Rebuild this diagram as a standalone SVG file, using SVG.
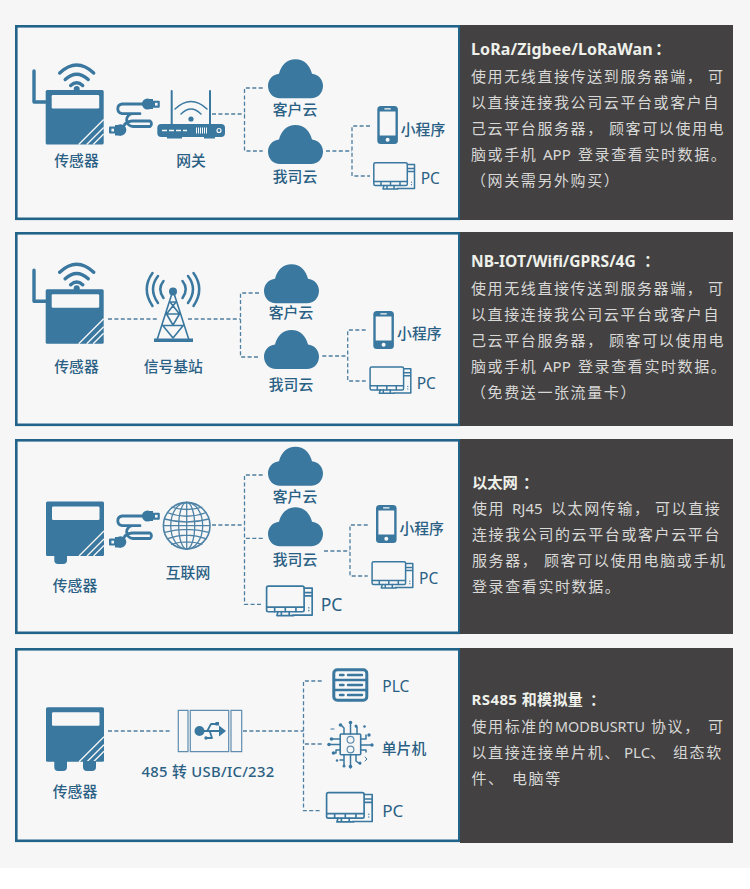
<svg xmlns="http://www.w3.org/2000/svg" width="750" height="889" viewBox="0 0 750 889">
<style>
text{font-family:"Noto Sans","Noto Sans CJK SC",sans-serif}
.panel{fill:#f7f7f8;stroke:#22638a;stroke-width:2.6}
.dark{fill:#434142}
.lb{fill:#2a6083;font-size:14.8px;font-weight:500;text-anchor:middle}
.pc{fill:#2a6083;font-size:15.500px}
.h{fill:#eef0ea;font-size:16px;font-weight:700}
.t{fill:#d8d8d6;font-size:15px;letter-spacing:1.6px}
.dash{fill:none;stroke:#4f7f9f;stroke-width:1.3;stroke-dasharray:4 2.4}
.f{fill:#3a789f}
.s{fill:none;stroke:#3a789f;stroke-linecap:round;stroke-linejoin:round}
.w{fill:none;stroke:#f7f7f8}
</style>
<defs>
<g id="box"><rect width="58" height="54.5" rx="1.5" class="f"/><rect x="6" y="5" width="47.5" height="13.5" rx="1.2" fill="#f7f7f8"/><path class="w" stroke-width="1.3" d="M33 54.5 58 29.5M41 54.5 58 37.5M47.5 54.5 58 44"/></g>
<g id="wifi"><path class="s" stroke-width="3.4" stroke-linecap="butt" d="M14 -17Q31 -33 48 -17M19.5 -10.5Q31 -21 42.5 -10.5M25 -4.5Q31 -10 37 -4.5"/><circle cx="31" cy="-1" r="3" class="f"/><path class="s" stroke-width="3.4" stroke-linecap="butt" d="M-11.7 -19V12H0"/></g>
<path id="cloud" class="f" d="M12 39C5 39 0 33.5 0 26.5 0 20 5 15 11 14.5 13 6 19 0 27.5 0 36 0 42 6 44 14.5 50 15 55 20 55 26.5 55 33.5 50 39 43 39Z"/>
<g id="phone"><rect width="20.6" height="38" rx="3.5" class="f"/><rect x="2.4" y="5.5" width="15.8" height="24" fill="#f7f7f8"/><rect x="7" y="2.2" width="6.6" height="1.3" rx=".6" fill="#f7f7f8"/><circle cx="10.3" cy="33.7" r="2" fill="#f7f7f8"/></g>
<g id="pc" class="s" stroke-width="1.5"><rect x=".8" y=".8" width="33.5" height="22.8" rx="1.5"/><path d="M1 19.5H34M8 19.5V23.5M17.5 19.5V23.5M27 19.5V23.5M11 23.5 10 27H25M14 23.5V27M21 23.5V27M34.5 2.5H41.5V26.6H24M35 6.5H41M35 9.5H41"/><path stroke-width="1.2" d="M38.5 20V20.2M38.5 22.5V22.7"/></g>
<g id="cable"><path class="s" stroke-width="2.8" d="M36 6H13A4.9 4.9 0 0 0 13 15.7H31M31 15.7H24A6.2 6.2 0 0 0 24 28.5H41A3.3 3.3 0 0 0 41 23H23Q16 24 15 28"/><circle cx="38.5" cy="6" r="5.500" class="f"/><rect x="38" y="1" width="6" height="10" class="f"/><rect x="43" y="2.800" width="7.800" height="7" rx="1" class="f"/><rect x="46" y="4.800" width="2.600" height="2.800" fill="#f7f7f8"/><circle cx="11.500" cy="32" r="5.800" class="f"/><rect x="6" y="27" width="6" height="10.500" class="f"/><rect x="0" y="28.500" width="8" height="7" rx="1" class="f"/><rect x="2.400" y="30.700" width="2.600" height="2.800" fill="#f7f7f8"/></g>
</defs>
<rect width="750" height="868" fill="#f6f6f6"/>
<rect width="750" height="21" y="868" fill="#fff"/>

<g id="panel-1"><rect class="panel" x="16.3" y="26.3" width="443" height="192.5"/><rect class="dark" x="460" y="25" width="273" height="195"/></g>
<g id="panel-2"><rect class="panel" x="16.3" y="233.3" width="443" height="191.5"/><rect class="dark" x="460" y="232" width="273" height="194"/></g>
<g id="panel-3"><rect class="panel" x="16.3" y="440.3" width="443" height="192.5"/><rect class="dark" x="460" y="439" width="273" height="195"/></g>
<g id="panel-4"><rect class="panel" x="16.3" y="649.3" width="443" height="191.5"/><rect class="dark" x="460" y="648" width="273" height="195"/></g>

<g id="connectors">
<path class="dash" d="M212 114H244.5M262.7 88H244.5V151H262.7M326 151H352M370 126H352V176H370"/>
<path class="dash" d="M108 319H159M188 319H240.5M259 293H240.5V357H259M322.3 356H347.7M365.7 330H347.7V381H365.7"/>
<path class="dash" d="M212 525H244.5M262.7 475H244.5V604.3H263M262.7 538.3H244.5M324 551H350M367.7 525H350V576H367.7"/>
<path class="dash" d="M108 731H172M243 731H303.5M321.7 681H303.5V810.7H321.7M321.7 744H303.5"/>
</g>

<g id="p1-sensor"><use href="#box" x="45.7" y="90"/><use href="#wifi" x="45.7" y="90"/><text class="lb" x="76.5" y="165.5">传感器</text></g>
<g id="p1-cable"><use href="#cable" x="109" y="98"/></g>
<g id="p1-gateway"><path class="s" stroke-width="2" stroke-linecap="butt" d="M171.7 91V124M210 91V124"/><path class="s" stroke-width="1.500" d="M175 109Q191 94 207 109M181 114Q191 104 201 114"/><circle cx="191" cy="119" r="2.6" class="f"/><rect x="157.3" y="124" width="67.7" height="13" rx="4" class="f"/><path class="f" d="M167 137H182V138.5H167ZM204 137H215V138.5H204Z"/><path class="w" stroke-width="1.4" d="M162 130.5H187" stroke-dasharray="5 2"/><path class="w" stroke-width="6" d="M196 130.500H207" stroke-dasharray="1 1"/><circle cx="219" cy="130.500" r="2" class="w" stroke-width="1.2"/><text class="lb" x="191" y="165.5">网关</text></g>
<g id="p1-customer-cloud"><use href="#cloud" x="268" y="59.300"/><text class="lb" x="295" y="115">客户云</text></g>
<g id="p1-our-cloud"><use href="#cloud" x="268" y="125"/><text class="lb" x="295" y="182">我司云</text></g>
<g id="p1-phone"><use href="#phone" x="377.300" y="106"/><text class="lb" x="423" y="134.500">小程序</text></g>
<g id="p1-pc"><use href="#pc" x="373" y="162"/><text class="pc" x="420.700" y="184">PC</text></g>
<g id="p1-text"><text class="h" y="55"><tspan x="471" letter-spacing=".1">LoRa/Zigbee/LoRaWan</tspan><tspan x="655">：</tspan></text>
<text class="t" y="81.500"><tspan x="471">使用无线直接传送到服务器端，</tspan><tspan x="708">可</tspan></text>
<text class="t" y="107.500" x="471">以直接连接我公司云平台或客户自</text>
<text class="t" y="133.500"><tspan x="471">己云平台服务器，</tspan><tspan x="609">顾客可以使用电</tspan></text>
<text class="t" y="159.500"><tspan x="471">脑或手机</tspan><tspan x="543" letter-spacing="0">APP</tspan><tspan x="578">登录查看实时数据。</tspan></text>
<text class="t" y="185.500" x="471">（网关需另外购买）</text></g>

<g id="p2-sensor"><use href="#box" x="45.700" y="289.300"/><use href="#wifi" x="45.700" y="289.300"/><text class="lb" x="76.500" y="371.500">传感器</text></g>
<g id="p2-tower"><circle cx="173" cy="291.500" r="4" class="f"/><path class="s" stroke-width="1.6" d="M171.500 295 157 340M174.500 295 189 340M170 302H176M166.500 314H179.500M162.800 325.500H183.200L173 338 162.800 325.500M166.500 314 173 325M179.500 314 173 325M170 302 179.500 314M176 302 166.500 314"/><rect x="154" y="338.500" width="39" height="3.500" class="f"/><path class="s" stroke-width="2.500" stroke-linecap="butt" d="M163.500 281Q157 289 163.500 298M182.500 281Q189 289 182.500 298M158 276Q148 289 158 303M188 276Q198 289 188 303M152.500 273Q141 289 152.500 306M193.500 273Q205 289 193.500 306" /><text class="lb" x="173.300" y="371.500">信号基站</text></g>
<g id="p2-customer-cloud"><use href="#cloud" x="264" y="264.300"/><text class="lb" x="291" y="318">客户云</text></g>
<g id="p2-our-cloud"><use href="#cloud" x="264" y="330"/><text class="lb" x="291" y="389.500">我司云</text></g>
<g id="p2-phone"><use href="#phone" x="373.300" y="311"/><text class="lb" x="419.300" y="339">小程序</text></g>
<g id="p2-pc"><use href="#pc" x="369.300" y="366.300"/><text class="pc" x="416.700" y="389">PC</text></g>
<g id="p2-text"><text class="h" y="267" style="font-size:15.600px"><tspan x="471">NB-IOT/Wifi/GPRS/4G</tspan><tspan x="644">：</tspan></text>
<text class="t" y="293.500"><tspan x="471">使用无线直接传送到服务器端，</tspan><tspan x="708">可</tspan></text>
<text class="t" y="319.500" x="471">以直接连接我公司云平台或客户自</text>
<text class="t" y="345.500"><tspan x="471">己云平台服务器，</tspan><tspan x="609">顾客可以使用电</tspan></text>
<text class="t" y="371.500"><tspan x="471">脑或手机</tspan><tspan x="543" letter-spacing="0">APP</tspan><tspan x="578">登录查看实时数据。</tspan></text>
<text class="t" y="397.500" x="471">（免费送一张流量卡）</text></g>

<g id="p3-sensor"><use href="#box" x="46" y="501.500"/><path class="f" d="M54.300 555H67V560Q67 564 63 564H58Q54.300 564 54.300 560Z"/><text class="lb" x="75" y="590.500">传感器</text></g>
<g id="p3-cable"><use href="#cable" x="109" y="510"/></g>
<g id="p3-internet" fill="none" stroke="#4f83a6" stroke-width="1.300"><circle cx="186.700" cy="525.700" r="23.300" stroke-width="1.600"/><ellipse cx="186.700" cy="525.700" rx="8" ry="23.300"/><ellipse cx="186.700" cy="525.700" rx="16" ry="23.300"/><path d="M186.700 502.400V549M163.400 525.700H210M167 512.500Q186.700 520 206.400 512.500M167 538.900Q186.700 531.400 206.400 538.900M171 507Q186.700 512 202.400 507M171 544.400Q186.700 539.400 202.400 544.400M164.500 519Q186.700 525 208.900 519M164.500 532.400Q186.700 526.400 208.900 532.400"/><text class="lb" stroke="none" x="188" y="577.500">互联网</text></g>
<g id="p3-customer-cloud"><use href="#cloud" x="268" y="446.700"/><text class="lb" x="295" y="502">客户云</text></g>
<g id="p3-our-cloud"><use href="#cloud" x="268" y="507.300"/><text class="lb" x="295" y="564.500">我司云</text></g>
<g id="p3-phone"><use href="#phone" x="376" y="505"/><text class="lb" x="421.700" y="533.500">小程序</text></g>
<g id="p3-pc"><use href="#pc" x="371.300" y="561"/><text class="pc" x="419" y="584">PC</text></g>
<g id="p3-pc2"><use href="#pc" transform="translate(265.700 585.300) scale(1.120)"/><text class="pc" style="font-size:17.500px" x="320.700" y="611">PC</text></g>
<g id="p3-text"><text class="h" y="487.500" style="font-size:15.300px"><tspan x="472">以太网</tspan><tspan x="523">：</tspan></text>
<text class="t" y="513.500"><tspan x="472">使用</tspan><tspan x="512" letter-spacing="0">RJ45</tspan><tspan x="551">以太网传输，</tspan><tspan x="655">可以直接</tspan></text>
<text class="t" y="539.800" x="472">连接我公司的云平台或客户云平台</text>
<text class="t" y="566"><tspan x="472">服务器，</tspan><tspan x="544">顾客可以使用电脑或手机</tspan></text>
<text class="t" y="592.200" x="472">登录查看实时数据。</text></g>

<g id="p4-sensor"><use href="#box" x="46" y="707.300"/><path class="f" d="M54.300 761H67V767Q67 771 63 771H58Q54.300 771 54.300 767ZM83 761H96V767Q96 771 92 771H87Q83 771 83 767Z"/><text class="lb" x="75" y="797">传感器</text></g>
<g id="p4-converter"><path fill="none" stroke="#5f8db0" stroke-width="1.200" d="M178.300 710.300H188V751.700H178.300ZM190.300 710.300H228.700V751.700H190.300ZM231 710.300H241.700V751.700H231Z"/><circle cx="199.500" cy="731" r="5" class="f"/><path class="f" d="M203 730H219V725.500L226 731 219 736.500V732H203Z"/><path class="s" stroke-width="1.800" d="M207.500 730.500 211 724H217M210 732 212 738H207"/><rect x="215.500" y="722" width="3.500" height="3.500" class="f"/><circle cx="206" cy="738" r="1.700" class="f"/><text class="lb" letter-spacing=".3" x="208" y="777">485 转 USB/IC/232</text></g>
<g id="p4-plc"><rect x="333.800" y="669.800" width="33" height="30.500" rx="3.500" fill="none" stroke="#3a789f" stroke-width="3"/><path class="s" stroke-width="2.400" d="M334 680H367M334 690H367M340 675H343.500M340 685H343.500M340 695H343.500M348 675H362M348 685H362M348 695H362"/><text class="pc" x="382.300" y="692.300">PLC</text></g>
<g id="p4-mcu"><rect x="340.200" y="734" width="20.500" height="20.800" rx="1" fill="none" stroke="#3a789f" stroke-width="1.600"/><circle cx="350.500" cy="739.800" r="3.400" fill="none" stroke="#5f8db0" stroke-width="1.200"/><circle cx="350.500" cy="749.500" r="3.400" fill="none" stroke="#5f8db0" stroke-width="1.200"/><path class="s" stroke-width="1.500" d="M350.500 734V723M344 734V728L341 725M357 734V727H356M340 739H332M340 744.500H329M340 750H336V753H334M361 739H366V735M361 745H371M361 750H366V752M344 755V766M350.500 755V768M356 755V761L360 764M344 755V760H340"/><g class="f"><circle cx="350.500" cy="722.500" r="1.800"/><circle cx="340.500" cy="725" r="1.800"/><circle cx="356" cy="726" r="1.500"/><circle cx="364.500" cy="726.500" r="1.300"/><circle cx="369" cy="735" r="1.700"/><circle cx="331.500" cy="739" r="1.800"/><circle cx="329" cy="744.500" r="1.800"/><circle cx="372" cy="745" r="1.700"/><circle cx="333.500" cy="753" r="1.800"/><circle cx="337" cy="760.500" r="1.200"/><circle cx="344" cy="766" r="1.500"/><circle cx="350.500" cy="766.500" r="1.800"/><circle cx="360" cy="763" r="1.500"/></g><path class="s" stroke-width="1" d="M331 729H334M365 757 367 759 365 761"/><text class="lb" x="404" y="753.500">单片机</text></g>
<g id="p4-pc"><use href="#pc" transform="translate(325.700 791.700) scale(1.120)"/><text class="pc" style="font-size:17px" x="382.300" y="817">PC</text></g>
<g id="p4-text"><text class="h" y="705" style="font-size:15px"><tspan x="471.500" letter-spacing=".4">RS485 和模拟量</tspan><tspan x="590">：</tspan></text>
<text class="t" y="731.700"><tspan x="471.500">使用标准的</tspan><tspan x="555" letter-spacing="0" font-size="14.400">MODBUSRTU</tspan><tspan x="651">协议，</tspan><tspan x="708">可</tspan></text>
<text class="t" y="758" x="471.500"><tspan>以直接连接单片机、</tspan><tspan x="624" letter-spacing="0">PLC、</tspan><tspan x="673">组态软</tspan></text>
<text class="t" y="784"><tspan x="471.500">件、</tspan><tspan x="512">电脑等</tspan></text></g>
</svg>
